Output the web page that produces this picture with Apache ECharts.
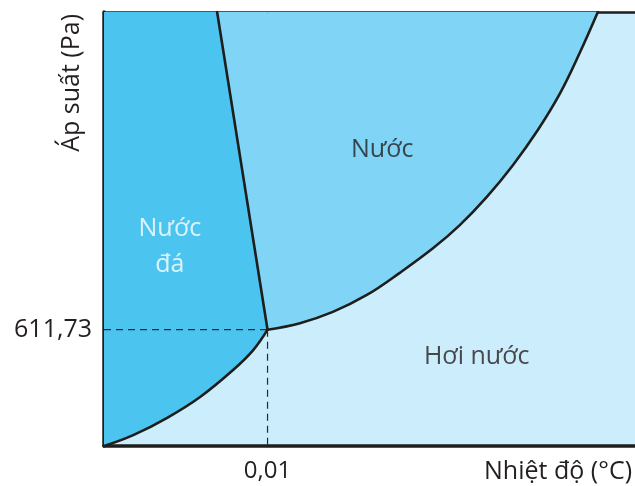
<!DOCTYPE html>
<html>
<head>
<meta charset="utf-8">
<script src="https://cdn.jsdelivr.net/npm/echarts@6.0.0/dist/echarts.min.js"></script>
<style>
html,body{margin:0;padding:0;background:#fff;}
#chart{width:635px;height:486px;}
</style>
</head>
<body>
<div id="chart"></div>
<script>
// Axis extents (relative units)
const xRange = [0, 100];
const yRange = [0, 100];

// Triple point
const triplePoint = [30.8, 26.8];

// Tick labels at the triple point
const xTickValues = [30.8];
const xTickLabels = ['0,01'];
const yTickValues = [26.8];
const yTickLabels = ['611,73'];

// Phase boundaries
const sublimationCurve = [[0, 0], [5.5, 2.5], [11.9, 6.5], [18.1, 11.3], [24.3, 17.5], [28.1, 22.1], [30.8, 26.8]];
const fusionLine = [[21.3, 100], [30.8, 26.8]];
const vaporizationCurve = [[30.8, 26.8], [36.9, 28.3], [43.1, 30.9], [49.5, 34.8], [55.7, 39.9], [62.0, 45.6], [67.0, 50.9], [72.1, 57.4], [77.0, 64.7], [81.7, 72.8], [85.9, 81.3], [89.6, 90.6], [93.0, 100]];

// Region labels
const regionNames = ['Nước', 'Nước\nđá', 'Hơi nước'];
const regionPositions = [[52.4, 68.2], [12.4, 45.9], [70.2, 20.5]];
const regionColors = ['#231f20', '#ffffff', '#231f20'];

const axisNames = { x: 'Nhiệt độ (°C)', y: 'Áp suất (Pa)' };

const colors = { ice: '#4cc4f0', liquid: '#80d4f6', vapor: '#ccedfb', line: '#1e1e1c', text: '#231f20' };
const font = 'Open Sans';
const curveSmooth = 0.4;

const hLine = [[xRange[0], triplePoint[1]], triplePoint];
const vLine = [triplePoint, [triplePoint[0], yRange[0]]];

function areaSeries(data, color, smooth) {
  return {
    type: 'line', data: data, smooth: smooth, symbol: 'none', silent: true,
    lineStyle: { width: 0 },
    areaStyle: { color: color, opacity: 1, origin: 'end' },
    z: 1
  };
}
function strokeSeries(data, smooth) {
  return {
    type: 'line', data: data, smooth: smooth, symbol: 'none', silent: true,
    lineStyle: { width: 2.6, color: colors.line, cap: 'round', join: 'round' },
    z: 4
  };
}
function dashSeries(data) {
  return {
    type: 'line', data: data, symbol: 'none', silent: true,
    lineStyle: { width: 1.2, color: '#2a2a2a', type: [7, 5] },
    z: 3
  };
}

const chart = echarts.init(document.getElementById('chart'), null, { renderer: 'canvas' });
chart.setOption({
  animation: false,
  backgroundColor: '#ffffff',
  grid: { left: 104, top: 12, right: 0, bottom: 40, show: true, backgroundColor: colors.vapor, borderWidth: 0, containLabel: false, outerBoundsMode: 'none' },
  xAxis: [{
    type: 'value', min: xRange[0], max: xRange[1],
    name: axisNames.x, nameLocation: 'end', nameGap: -3,
    nameTextStyle: { fontFamily: font, fontSize: 25, color: colors.text, align: 'right', verticalAlign: 'top', padding: [13, 0, 0, 0] },
    axisLine: { show: true, onZero: false, lineStyle: { color: colors.line, width: 3.5 } },
    axisTick: { show: false },
    splitLine: { show: false },
    axisLabel: {
      customValues: xTickValues, margin: 13,
      fontFamily: font, fontSize: 24, color: colors.text,
      formatter: function (v) { const i = xTickValues.indexOf(v); return i >= 0 ? xTickLabels[i] : ''; }
    }
  }, {
    type: 'value', min: xRange[0], max: xRange[1], position: 'top',
    axisLine: { show: true, onZero: false, lineStyle: { color: colors.line, width: 2.5 } },
    axisTick: { show: false }, axisLabel: { show: false }, splitLine: { show: false }
  }],
  yAxis: {
    type: 'value', min: yRange[0], max: yRange[1],
    name: axisNames.y, nameLocation: 'end', nameGap: -2, nameRotate: 90,
    nameTextStyle: { fontFamily: font, fontSize: 25, color: colors.text, align: 'right', verticalAlign: 'bottom', padding: [0, 0, 20, 0] },
    axisLine: { show: true, onZero: false, lineStyle: { color: colors.line, width: 3.5 } },
    axisTick: { show: false },
    splitLine: { show: false },
    axisLabel: {
      customValues: yTickValues, margin: 12,
      fontFamily: font, fontSize: 25, color: colors.text,
      formatter: function (v) { const i = yTickValues.indexOf(v); return i >= 0 ? yTickLabels[i] : ''; }
    }
  },
  series: [
    areaSeries(sublimationCurve, colors.ice, curveSmooth),
    areaSeries(vaporizationCurve, colors.liquid, curveSmooth),
    areaSeries(fusionLine, colors.liquid, false),
    dashSeries(hLine),
    dashSeries(vLine),
    strokeSeries(sublimationCurve, curveSmooth),
    strokeSeries(fusionLine, false),
    strokeSeries(vaporizationCurve, curveSmooth),
    {
      type: 'scatter', symbolSize: 0, silent: true, z: 5,
      data: regionNames.map(function (n, i) {
        return { name: n, value: regionPositions[i], label: { color: regionColors[i] } };
      }),
      label: {
        show: true, position: 'inside', fontFamily: font, fontSize: 25, lineHeight: 36,
        formatter: function (p) { return p.data.name; }
      },
      labelLayout: { hideOverlap: false }
    }
  ]
});
</script>
</body>
</html>
